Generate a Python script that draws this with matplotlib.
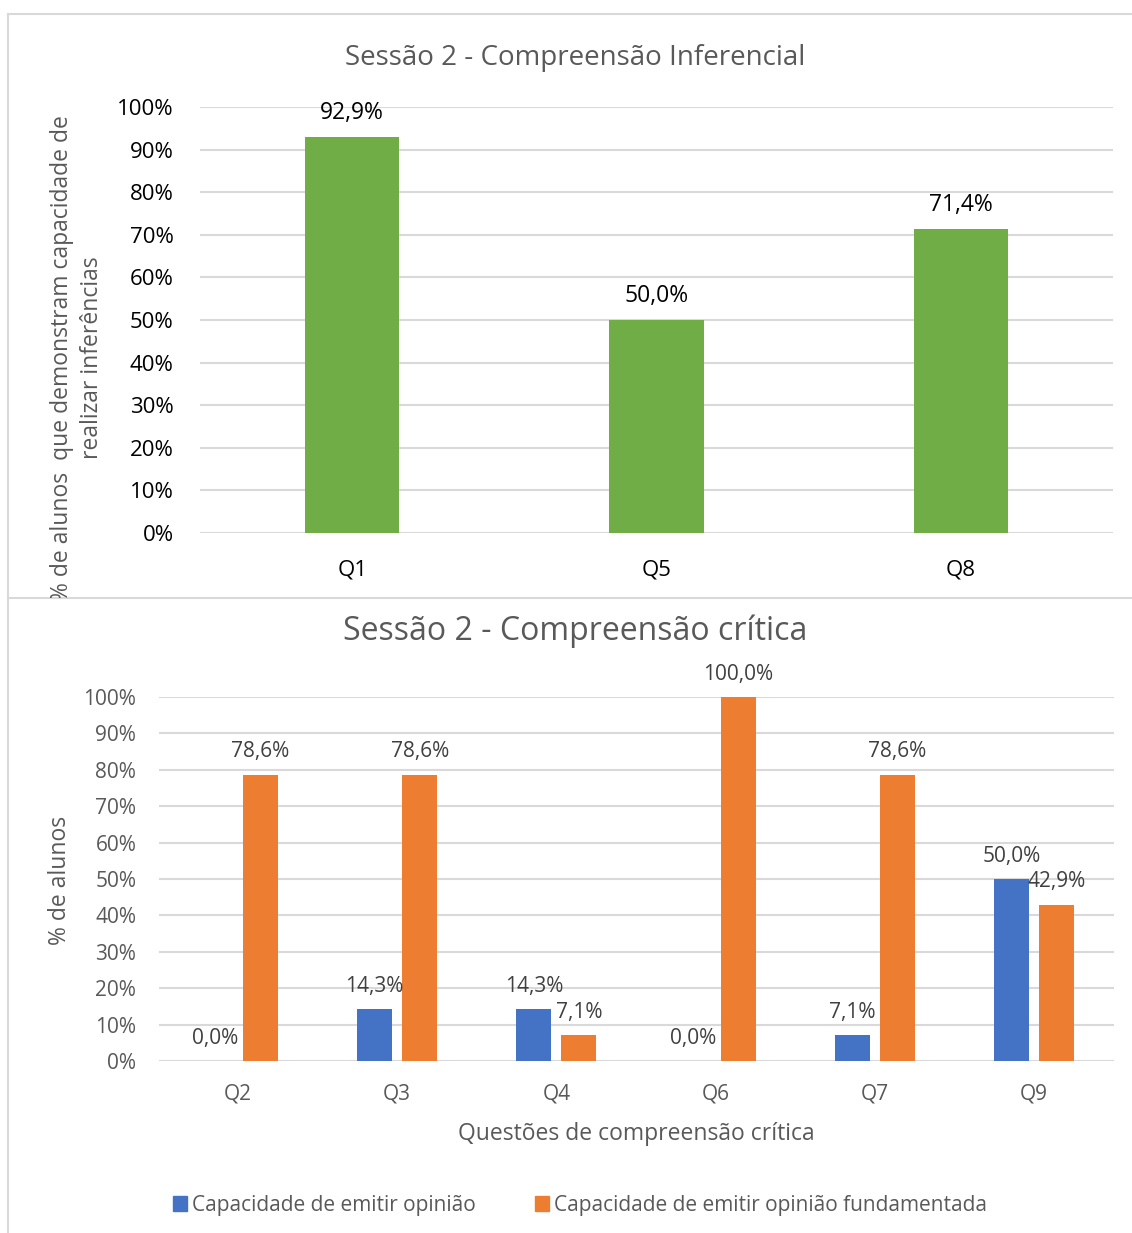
import matplotlib.pyplot as plt
from matplotlib.lines import Line2D
from matplotlib.patches import Patch
from matplotlib.transforms import Bbox, TransformedBbox

plt.rcParams['font.family'] = ['Open Sans', 'DejaVu Sans']

# inference questions (session 2)
inf_questions = ['Q1', 'Q5', 'Q8']
inf_values = [92.9, 50.0, 71.4]

# critical comprehension questions (session 2)
crit_questions = ['Q2', 'Q3', 'Q4', 'Q6', 'Q7', 'Q9']
opiniao = [0.0, 14.3, 14.3, 0.0, 7.1, 50.0]
fundamentada = [78.6, 78.6, 7.1, 100.0, 78.6, 42.9]

pct_ticks = list(range(0, 101, 10))

GREEN = '#70ad47'
BLUE = '#4472c4'
ORANGE = '#ed7d31'
GRID = '#d9d9d9'
GRAY = '#595959'

W, H = 1132, 1233
fig = plt.figure(figsize=(W / 100, H / 100), dpi=100)


def fbox(x0, y0, x1, y1):
    # pixel box (top-left origin) -> figure fraction rect
    return [x0 / W, 1 - y1 / H, (x1 - x0) / W, (y1 - y0) / H]


def pct(v):
    return f'{v:.1f}%'.replace('.', ',')


def style_axes(ax, tick_size, tick_color, pad):
    ax.set_ylim(0, 100)
    ax.set_yticks(pct_ticks)
    ax.set_yticklabels([f'{t}%' for t in pct_ticks])
    ax.yaxis.grid(True, color=GRID, linewidth=1.5)
    ax.set_axisbelow(True)
    for s in ax.spines.values():
        s.set_visible(False)
    ax.tick_params(length=0, labelsize=tick_size, labelcolor=tick_color)
    ax.tick_params(axis='y', pad=pad)


# ---- top chart: inferences ----
ax1 = fig.add_axes(fbox(200, 107, 1113, 533))
x1 = range(len(inf_questions))
bars = ax1.bar(x1, inf_values, width=0.31, color=GREEN, zorder=2)
ax1.set_xlim(-0.5, len(inf_questions) - 0.5)
style_axes(ax1, 16, 'black', 19)
ax1.set_xticks(list(x1))
ax1.set_xticklabels(inf_questions)
ax1.tick_params(axis='x', pad=19)
for b, v in zip(bars, inf_values):
    ax1.annotate(pct(v), (b.get_x() + b.get_width() / 2, v), xytext=(0, 17.5),
                 textcoords='offset points', ha='center', va='center',
                 fontsize=16.5, color='black')

fig.text(575 / W, 1 - 58 / H, 'Sessão 2 - Compreensão Inferencial',
         ha='center', va='center', fontsize=20, color=GRAY)

ylab = fig.text(77 / W, 1 - 358 / H,
                '% de alunos  que demonstram capacidade de\nrealizar inferências',
                rotation=90, ha='center', va='center', ma='center',
                fontsize=16.5, color=GRAY, linespacing=1.3)
ylab.set_clip_box(TransformedBbox(Bbox.from_extents(0, 1 - 598 / H, 1, 1),
                                  fig.transFigure))
ylab.set_clip_on(True)

# ---- bottom chart: critical comprehension ----
ax2 = fig.add_axes(fbox(158.5, 697, 1113.5, 1061))
x2 = list(range(len(crit_questions)))
off = 0.1415
bw = 0.22
b_op = ax2.bar([i - off for i in x2], opiniao, width=bw, color=BLUE, zorder=2)
b_fu = ax2.bar([i + off for i in x2], fundamentada, width=bw, color=ORANGE, zorder=2)
ax2.set_xlim(-0.5, len(crit_questions) - 0.5)
style_axes(ax2, 15, GRAY, 16)
ax2.set_xticks(x2)
ax2.set_xticklabels(crit_questions)
ax2.tick_params(axis='x', pad=16)
for group, vals in ((b_op, opiniao), (b_fu, fundamentada)):
    for b, v in zip(group, vals):
        ax2.annotate(pct(v), (b.get_x() + b.get_width() / 2, v), xytext=(0, 16.5),
                     textcoords='offset points', ha='center', va='center',
                     fontsize=15, color='#404040')

fig.text(575 / W, 1 - 631 / H, 'Sessão 2 - Compreensão crítica',
         ha='center', va='center', fontsize=23, color=GRAY)
fig.text(60 / W, 1 - 880 / H, '% de alunos', rotation=90,
         ha='center', va='center', fontsize=16.5, color=GRAY)
fig.text(636 / W, 1 - 1134 / H, 'Questões de compreensão crítica',
         ha='center', va='center', fontsize=16.5, color=GRAY)

handles = [Patch(color=BLUE), Patch(color=ORANGE)]
fig.legend(handles, ['Capacidade de emitir opinião',
                     'Capacidade de emitir opinião fundamentada'],
           loc='center', bbox_to_anchor=(580 / W, 1 - 1205 / H), ncol=2,
           frameon=False, fontsize=15, labelcolor=GRAY,
           handlelength=0.7, handleheight=0.7, handletextpad=0.25,
           columnspacing=2.8)

# chart frames
for xs, ys in (([8, W], [14, 14]), ([8, 8], [14, H]), ([8, W], [598, 598])):
    fig.add_artist(Line2D([x / W for x in xs], [1 - y / H for y in ys],
                          color=GRID, linewidth=1.5))

fig.savefig('out.png', dpi=100, facecolor='white')
